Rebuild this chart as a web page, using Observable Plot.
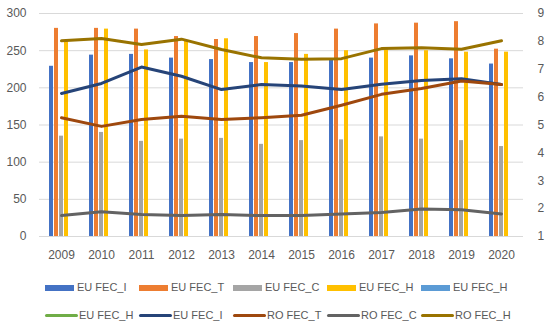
<!DOCTYPE html>
<html>
<head>
<meta charset="utf-8">
<script src="https://cdn.jsdelivr.net/npm/d3@7"></script>
<script src="https://cdn.jsdelivr.net/npm/@observablehq/plot@0.6"></script>
<style>
  html, body { margin: 0; padding: 0; background: #fff; }
  #chart { position: relative; width: 550px; height: 323px; font-family: "Liberation Sans", Arial, sans-serif; color: #595959; }
  #chart svg { position: absolute; left: 0; top: 0; }
  .legend { position: absolute; left: 45px; top: 278px; font-size: 11px; }
  .row { display: flex; height: 19px; line-height: 19px; margin-bottom: 9px; }
  .item { width: 94px; display: flex; align-items: center; white-space: nowrap; }
  .sw-bar { width: 29px; height: 6px; margin-right: 3px; }
  .sw-line { width: 33px; height: 3px; margin-right: 1px; border-radius: 1.5px; }
</style>
</head>
<body>
<div id="chart"></div>
<script>
// ---- data ----
const years = [2009, 2010, 2011, 2012, 2013, 2014, 2015, 2016, 2017, 2018, 2019, 2020];

// bar series (left axis)
const barKeys   = ["EU FEC_I", "EU FEC_T", "EU FEC_C", "EU FEC_H", "EU FEC_H (2)"];
const barLabels = ["EU FEC_I", "EU FEC_T", "EU FEC_C", "EU FEC_H", "EU FEC_H"];
const barColors = ["#4472C4", "#ED7D31", "#A5A5A5", "#FFC000", "#5B9BD5"];
const euFecI  = [229, 244, 245, 240, 238, 234, 234, 238, 240, 243, 239, 232];
const euFecT  = [280, 280, 279, 269, 265, 269, 273, 279, 286, 287, 289, 252];
const euFecC  = [135, 140, 128, 131, 132, 124, 129, 130, 134, 131, 129, 121];
const euFecH  = [263, 279, 251, 263, 266, 234, 245, 250, 251, 250, 248, 248];
const euFecH2 = [null, null, null, null, null, null, null, null, null, null, null, null];

// line series (right axis)
const lineKeys   = ["EU FEC_H line", "EU FEC_I line", "RO FEC_T", "RO FEC_C", "RO FEC_H"];
const lineLabels = ["EU FEC_H", "EU FEC_I", "RO FEC_T", "RO FEC_C", "RO FEC_H"];
const lineColors = ["#70AD47", "#264478", "#9E480E", "#636363", "#997300"];
const euFecHLine = [null, null, null, null, null, null, null, null, null, null, null, null];
const euFecILine = [6.13, 6.49, 7.08, 6.75, 6.27, 6.45, 6.40, 6.27, 6.46, 6.60, 6.66, 6.45];
const roFecT     = [5.26, 4.95, 5.20, 5.31, 5.20, 5.26, 5.35, 5.71, 6.10, 6.31, 6.58, 6.45];
const roFecC     = [1.75, 1.89, 1.79, 1.75, 1.79, 1.75, 1.75, 1.81, 1.86, 1.99, 1.96, 1.81];
const roFecH     = [8.02, 8.10, 7.89, 8.08, 7.71, 7.41, 7.36, 7.38, 7.74, 7.77, 7.72, 8.02];

const leftTicks  = [0, 50, 100, 150, 200, 250, 300];
const rightTicks = [1, 2, 3, 4, 5, 6, 7, 8, 9];

// ---- tables ----
const barValues = [euFecI, euFecT, euFecC, euFecH, euFecH2];
const barData = [];
barKeys.forEach((k, i) => years.forEach((y, j) => {
  if (barValues[i][j] != null) barData.push({year: y, key: k, value: barValues[i][j]});
}));
const lineValues = [euFecHLine, euFecILine, roFecT, roFecC, roFecH];
const lineData = [];
lineKeys.forEach((k, i) => years.forEach((y, j) => {
  if (lineValues[i][j] != null) lineData.push({year: y, key: k, value: lineValues[i][j]});
}));

const W = 550, H = 265, M = {top: 13, bottom: 29, left: 39, right: 27};
const common = {
  width: W, height: H,
  marginTop: M.top, marginBottom: M.bottom, marginLeft: M.left, marginRight: M.right,
  style: {fontFamily: "'Liberation Sans', Arial, sans-serif", fontSize: "12px", color: "#595959", background: "transparent", overflow: "visible"}
};

// base: grid + left axis + year labels
const base = Plot.plot({
  ...common,
  x: {type: "band", domain: years, padding: 0},
  y: {domain: [0, 300]},
  marks: [
    Plot.ruleY(leftTicks, {stroke: "#d9d9d9", strokeWidth: 1}),
    Plot.axisY({ticks: leftTicks, tickSize: 0, tickPadding: 13, label: null}),
    Plot.axisX({tickSize: 0, tickPadding: 14, label: null, tickFormat: d => String(d)})
  ]
});

// bars: faceted by year
const bars = Plot.plot({
  ...common,
  fx: {domain: years, padding: 0, axis: null},
  x: {domain: barKeys, paddingInner: 0.25, paddingOuter: 0.99, axis: null},
  y: {domain: [0, 300], axis: null},
  color: {domain: barKeys, range: barColors},
  marks: [
    Plot.barY(barData, {fx: "year", x: "key", y: "value", fill: "key"})
  ]
});

// lines: right axis
const lines = Plot.plot({
  ...common,
  x: {type: "point", domain: years, padding: 0.5, axis: null},
  y: {domain: [1, 9], axis: null},
  color: {domain: lineKeys, range: lineColors},
  marks: [
    Plot.axisY({anchor: "right", ticks: rightTicks, tickSize: 0, tickPadding: 14, label: null}),
    Plot.line(lineData, {x: "year", y: "value", z: "key", stroke: "key", strokeWidth: 3, strokeLinejoin: "round", strokeLinecap: "round"})
  ]
});

const chart = document.getElementById("chart");
chart.appendChild(base);
chart.appendChild(bars);
chart.appendChild(lines);

// legend
const legend = document.createElement("div");
legend.className = "legend";
const row1 = document.createElement("div"); row1.className = "row";
barKeys.forEach((k, i) => {
  const it = document.createElement("div"); it.className = "item";
  it.innerHTML = `<span class="sw-bar" style="background:${barColors[i]}"></span><span>${barLabels[i]}</span>`;
  row1.appendChild(it);
});
const row2 = document.createElement("div"); row2.className = "row";
lineKeys.forEach((k, i) => {
  const it = document.createElement("div"); it.className = "item";
  it.innerHTML = `<span class="sw-line" style="background:${lineColors[i]}"></span><span>${lineLabels[i]}</span>`;
  row2.appendChild(it);
});
legend.appendChild(row1); legend.appendChild(row2);
chart.appendChild(legend);
</script>
</body>
</html>
